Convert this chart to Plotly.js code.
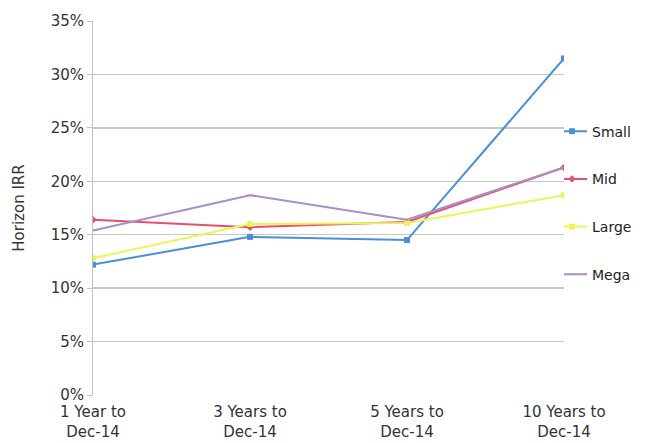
<!DOCTYPE html>
<html>
<head>
<meta charset="utf-8">
<script src="https://cdn.plot.ly/plotly-3.0.1.min.js"></script>
<style>html,body{margin:0;padding:0;background:#fff;}#chart{width:649px;height:443px;}</style>
</head>
<body>
<div id="chart"></div>
<script>
const categories = ["1 Year to<br>Dec-14", "3 Years to<br>Dec-14", "5 Years to<br>Dec-14", "10 Years to<br>Dec-14"];
const seriesNames = ["Small", "Mid", "Large", "Mega"];
const small = [12.2, 14.8, 14.5, 31.5];
const mid = [16.4, 15.7, 16.2, 21.3];
const large = [12.8, 16.0, 16.1, 18.7];
const mega = [15.4, 18.7, 16.4, 21.3];
const yTicks = [0, 5, 10, 15, 20, 25, 30, 35];
const yTickText = ["0%", "5%", "10%", "15%", "20%", "25%", "30%", "35%"];

const colors = ["#4a8fd8", "#e8506a", "#eef35a", "#a98ccb"];
const symbols = ["square", "diamond", "square", "line-ew-open"];
const values = [small, mid, large, mega];

const traces = values.map((v, i) => ({
  x: categories,
  y: v,
  name: seriesNames[i],
  type: "scatter",
  mode: "lines+markers",
  line: {color: colors[i], width: 2},
  marker: {color: colors[i], size: 5, symbol: symbols[i], line: {color: colors[i], width: 1}},
  legendgroup: "g" + i
}));

const fam = "DejaVu Sans, sans-serif";

const layout = {
  width: 649, height: 443,
  margin: {l: 93, r: 83, t: 21, b: 48},
  paper_bgcolor: "#fff", plot_bgcolor: "#fff",
  font: {family: fam, size: 14, color: "#333"},
  showlegend: true,
  legend: {x: 1.0, xanchor: "left", y: 0.747, yanchor: "top",
           tracegroupgap: 26.5, indentation: -12, itemwidth: 30,
           font: {family: fam, size: 14, color: "#222"}, bgcolor: "rgba(0,0,0,0)"},
  xaxis: {
    type: "category", range: [0, 3],
    showgrid: false, zeroline: false, showline: false,
    ticks: "", ticklabelstandoff: 6,
    tickfont: {family: fam, size: 15, color: "#333"},
    automargin: false
  },
  yaxis: {
    range: [0, 35], tickvals: yTicks, ticktext: yTickText,
    showgrid: true, gridcolor: "#c8c8c8", gridwidth: 1.5,
    zeroline: false, showline: true, linecolor: "#c0c0c0", linewidth: 1,
    ticks: "outside", ticklen: 5, tickcolor: "#c0c0c0",
    tickfont: {family: fam, size: 15, color: "#333"},
    title: {text: "Horizon IRR", font: {family: fam, size: 15, color: "#333"}, standoff: 22},
    automargin: false
  }
};

Plotly.newPlot("chart", traces, layout, {displayModeBar: false, staticPlot: true});
</script>
</body>
</html>
